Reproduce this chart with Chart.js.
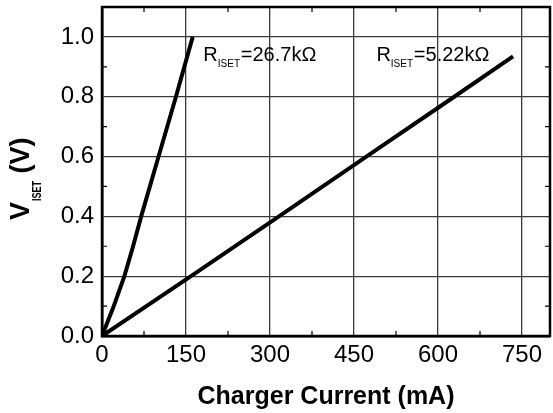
<!DOCTYPE html>
<html>
<head>
<meta charset="utf-8">
<script src="https://cdn.jsdelivr.net/npm/chart.js@4/dist/chart.umd.min.js"></script>
<style>
  html, body { margin: 0; padding: 0; background: #fff; }
  #wrap { width: 553px; height: 413px; }
</style>
</head>
<body>
<div id="wrap"><canvas id="chart"></canvas></div>
<script>
// values
const current1 = [0, 20, 40, 54, 70, 101, 132, 162];            // mA, RISET = 26.7k
const vset1 = [0, 0.095, 0.2, 0.29, 0.4, 0.6, 0.8, 1.0];        // V
const current2 = [0, 159, 316, 472, 629, 734];                   // mA, RISET = 5.22k
const vset2 = [0, 0.2, 0.4, 0.6, 0.8, 0.935];                  // V
const labels = ["=26.7kΩ", "=5.22kΩ"];

const FONT = "'Liberation Sans', Arial, sans-serif";

function toPoints(xs, ys) {
    return xs.map((v, i) => ({ x: v, y: ys[i] }));
}

// frame, inner minor ticks, y title with subscript, R labels
const extras = {
    id: "extras",
    afterDraw(chart) {
        const { ctx, chartArea: a, scales: { x, y } } = chart;
        ctx.save();
        ctx.strokeStyle = "#000";
        ctx.lineWidth = 2.5;
        ctx.strokeRect(a.left, a.top, a.right - a.left, a.bottom - a.top);

        ctx.lineWidth = 1.2;
        ctx.beginPath();
        const xt = x.ticks.map(t => t.value);
        for (let i = 0; i < xt.length; i++) {
            const m = xt[i] + (xt[1] - xt[0]) / 2;
            if (m >= x.max) break;
            const px = x.getPixelForValue(m);
            ctx.moveTo(px, a.bottom); ctx.lineTo(px, a.bottom - 5);
            ctx.moveTo(px, a.top); ctx.lineTo(px, a.top + 5);
        }
        const yt = y.ticks.map(t => t.value);
        for (let i = 0; i < yt.length; i++) {
            const m = yt[i] + (yt[1] - yt[0]) / 2;
            if (m >= y.max) break;
            const py = y.getPixelForValue(m);
            ctx.moveTo(a.left, py); ctx.lineTo(a.left + 5, py);
            ctx.moveTo(a.right, py); ctx.lineTo(a.right - 5, py);
        }
        ctx.stroke();

        // y axis title
        ctx.fillStyle = "#000";
        ctx.translate(29, 220);
        ctx.rotate(-Math.PI / 2);
        ctx.textAlign = "left";
        ctx.textBaseline = "alphabetic";
        ctx.font = "bold 27px " + FONT;
        ctx.fillText("V", 0, 0);
        let w = ctx.measureText("V").width;
        ctx.font = "bold 13px " + FONT;
        ctx.fillText("ISET", w + 1, 12, 20);
        w += 21;
        ctx.font = "bold 27px " + FONT;
        ctx.fillText(" (V)", w, 0);
        ctx.setTransform(1, 0, 0, 1, 0, 0);

        // R labels
        const spots = [[181, 0.918], [490, 0.918]];
        spots.forEach((s, i) => {
            let px = x.getPixelForValue(s[0]);
            const py = y.getPixelForValue(s[1]);
            ctx.font = "20px " + FONT;
            ctx.fillText("R", px, py);
            px += ctx.measureText("R").width;
            ctx.font = "10px " + FONT;
            ctx.fillText("ISET", px, py + 6, 23);
            px += 23;
            ctx.font = "20px " + FONT;
            ctx.fillText(labels[i], px, py);
        });
        ctx.restore();
    }
};

new Chart(document.getElementById("chart"), {
    type: "line",
    data: {
        datasets: [
            { data: toPoints(current1, vset1), borderColor: "#000", borderWidth: 4, pointRadius: 0, tension: 0 },
            { data: toPoints(current2, vset2), borderColor: "#000", borderWidth: 4, pointRadius: 0, tension: 0 }
        ]
    },
    options: {
        responsive: true,
        maintainAspectRatio: false,
        animation: false,
        layout: { padding: { top: 7, right: 3, left: 0, bottom: 0 } },
        plugins: { legend: { display: false }, tooltip: { enabled: false } },
        scales: {
            x: {
                type: "linear",
                min: 0,
                max: 800,
                afterFit: s => { s.height = 77; s.paddingLeft = 0; s.paddingRight = 0; },
                ticks: {
                    stepSize: 150,
                    includeBounds: false,
                    color: "#000",
                    padding: 5,
                    font: { family: FONT, size: 24 }
                },
                grid: { color: "#3a3a3a", lineWidth: 1.3, drawTicks: false },
                border: { display: true, color: "#000", width: 2.5 },
                title: {
                    display: true,
                    text: "Charger Current (mA)",
                    color: "#000",
                    padding: { top: 0, bottom: 3 },
                    font: { family: FONT, size: 25, weight: "bold", lineHeight: 1 }
                }
            },
            y: {
                type: "linear",
                min: 0,
                max: 1.1,
                afterFit: s => { s.width = 102; s.paddingTop = 0; s.paddingBottom = 0; },
                ticks: {
                    stepSize: 0.2,
                    includeBounds: false,
                    color: "#000",
                    padding: 8,
                    font: { family: FONT, size: 24 },
                    callback: v => v.toFixed(1)
                },
                grid: { color: "#3a3a3a", lineWidth: 1.3, drawTicks: false },
                border: { display: true, color: "#000", width: 2.5 }
            }
        }
    },
    plugins: [extras]
});
</script>
</body>
</html>
